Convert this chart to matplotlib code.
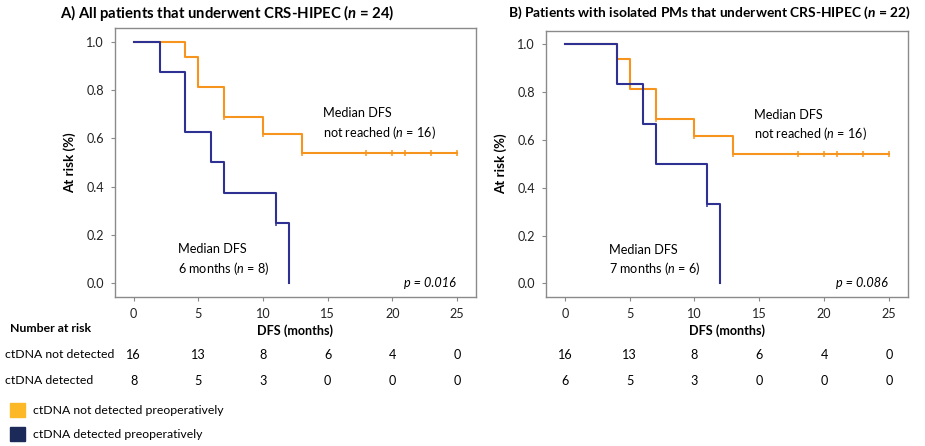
import numpy as np
import matplotlib
matplotlib.use("Agg")
import matplotlib.pyplot as plt
from matplotlib.patches import Rectangle
import matplotlib.transforms as mtransforms

plt.rcParams['font.family'] = ['Lato', 'DejaVu Sans']
plt.rcParams['mathtext.fontset'] = 'custom'
plt.rcParams['mathtext.rm'] = 'Lato'
plt.rcParams['mathtext.it'] = 'Lato:italic'
plt.rcParams['mathtext.bf'] = 'Lato:bold:italic'

# Kaplan-Meier steps (time in months, survival fraction)
a_nd_t = [0, 4, 5, 7, 10, 13, 25]
a_nd_s = [1.0, 0.9375, 0.8125, 0.6875, 0.617, 0.54, 0.54]
a_d_t = [0, 2, 4, 6, 7, 11, 12]
a_d_s = [1.0, 0.875, 0.625, 0.5, 0.375, 0.25, 0.0]

b_nd_t = [0, 4, 5, 7, 10, 13, 25]
b_nd_s = [1.0, 0.9375, 0.8125, 0.6875, 0.617, 0.54, 0.54]
b_d_t = [0, 4, 6, 7, 11, 12]
b_d_s = [1.0, 0.833, 0.667, 0.5, 0.333, 0.0]

# censor marks
nd_cens = [7, 10, 13, 18, 20, 21, 23, 25]
d_cens = [11]

risk_times = [0, 5, 10, 15, 20, 25]
a_risk_nd = [16, 13, 8, 6, 4, 0]
a_risk_d = [8, 5, 3, 0, 0, 0]
b_risk_nd = [16, 13, 8, 6, 4, 0]
b_risk_d = [6, 5, 3, 0, 0, 0]

ORANGE = "#F7941D"
BLUE = "#2E3192"
LEG_ORANGE = "#FDB827"
LEG_BLUE = "#1C2A5A"
GREY = "#8A8A8A"
FS = 9.1


def surv_at(t_steps, s_steps, tc):
    idx = np.searchsorted(t_steps, tc, side='right') - 1
    return np.array(s_steps)[idx]


def km_panel(ax, nd_t, nd_s, d_t, d_s, note_d, p_text):
    ax.step(nd_t, nd_s, where='post', color=ORANGE, lw=1.5)
    ax.plot(nd_cens, surv_at(nd_t, nd_s, nd_cens), ls='none', marker='|',
            ms=4.5, mew=1.1, color=ORANGE)
    ax.step(d_t, d_s, where='post', color=BLUE, lw=1.5)
    ax.plot(d_cens, surv_at(d_t, d_s, d_cens), ls='none', marker='|',
            ms=4.5, mew=1.1, color=BLUE)
    ax.set_xlim(-1.45, 26.45)
    ax.set_ylim(-0.057, 1.056)
    ax.set_xticks(risk_times)
    ax.set_yticks([0, 0.2, 0.4, 0.6, 0.8, 1.0])
    ax.set_yticklabels(["0.0", "0.2", "0.4", "0.6", "0.8", "1.0"])
    for sp in ax.spines.values():
        sp.set_color(GREY)
        sp.set_linewidth(1.0)
    ax.tick_params(direction='out', length=3, color=GREY, labelsize=FS,
                   labelcolor="#222222", pad=5)
    ax.set_ylabel("At risk (%)", fontweight='bold', fontsize=9.6, labelpad=7)
    ax.set_xlabel("DFS (months)", fontweight='bold', fontsize=FS, labelpad=3)
    ax.text(14.6, 0.705, "Median DFS", fontsize=FS, va='center')
    ax.text(14.6, 0.625, "not reached ($n$ = 16)", fontsize=FS, va='center')
    ax.text(3.4, 0.14, "Median DFS", fontsize=FS, va='center')
    ax.text(3.4, 0.062, note_d, fontsize=FS, va='center')
    ax.text(24.9, 0.0, p_text, fontsize=FS, ha='right', va='center', style='italic')


fig = plt.figure(figsize=(9.25, 4.46), dpi=100)
axA = fig.add_axes([0.1243, 0.334, 0.390, 0.603])
axB = fig.add_axes([0.5903, 0.334, 0.391, 0.597])

km_panel(axA, a_nd_t, a_nd_s, a_d_t, a_d_s, "6 months ($n$ = 8)", "p = 0.016")
km_panel(axB, b_nd_t, b_nd_s, b_d_t, b_d_s, "7 months ($n$ = 6)", "p = 0.086")

fig.text(60 / 925, 1 - 13 / 446, r"A) All patients that underwent CRS-HIPEC ($\mathbf{n}$ = 24)",
         fontweight='bold', fontsize=10.7, va='center')
fig.text(508 / 925, 1 - 13 / 446,
         r"B) Patients with isolated PMs that underwent CRS-HIPEC ($\mathbf{n}$ = 22)",
         fontweight='bold', fontsize=9.9, va='center')

# number at risk table
fig.text(10 / 925, 1 - 329 / 446, "Number at risk", fontweight='bold', fontsize=8.8, va='center')
fig.text(5 / 925, 1 - 355 / 446, "ctDNA not detected", fontsize=8.8, va='center')
fig.text(5 / 925, 1 - 381 / 446, "ctDNA detected", fontsize=8.8, va='center')
for ax, r_nd, r_d in [(axA, a_risk_nd, a_risk_d), (axB, b_risk_nd, b_risk_d)]:
    trans = mtransforms.blended_transform_factory(ax.transData, fig.transFigure)
    for t, v1, v2 in zip(risk_times, r_nd, r_d):
        fig.text(t, 1 - 355 / 446, str(v1), transform=trans, fontsize=FS,
                 ha='center', va='center')
        fig.text(t, 1 - 381 / 446, str(v2), transform=trans, fontsize=FS,
                 ha='center', va='center')

# legend
fig.patches.append(Rectangle((10 / 925, 1 - 417 / 446), 15 / 925, 14 / 446,
                             transform=fig.transFigure, color=LEG_ORANGE))
fig.patches.append(Rectangle((10 / 925, 1 - 441 / 446), 15 / 925, 14 / 446,
                             transform=fig.transFigure, color=LEG_BLUE))
fig.text(33 / 925, 1 - 410 / 446, "ctDNA not detected preoperatively", fontsize=8.8, va='center')
fig.text(33 / 925, 1 - 434 / 446, "ctDNA detected preoperatively", fontsize=8.8, va='center')

fig.savefig("out.png", dpi=100)
